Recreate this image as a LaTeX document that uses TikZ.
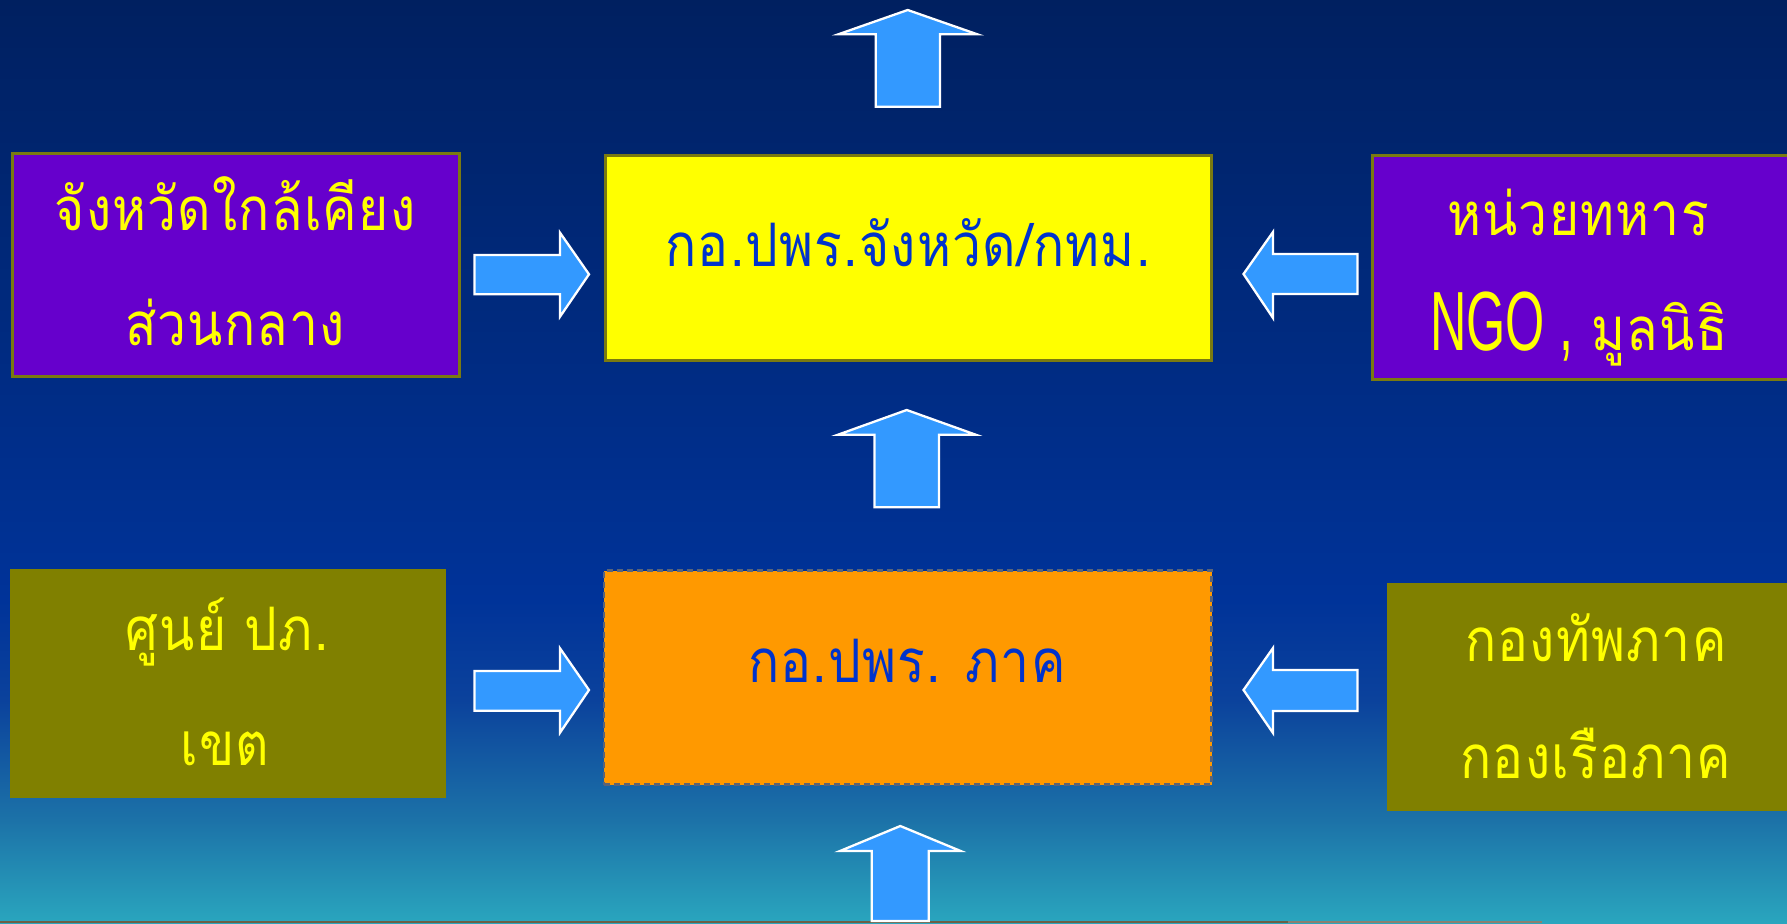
\documentclass[tikz,border=0pt]{standalone}
\usepackage{fontspec}
\newfontfamily\thaifont[Script=Thai,FakeStretch=0.86,LetterSpace=2]{Loma}
\newfontfamily\latfont[FakeStretch=0.6]{Liberation Sans}
\definecolor{bgA}{HTML}{002060}
\definecolor{bgB}{HTML}{003399}
\definecolor{bgB1}{HTML}{0B429C}
\definecolor{bgB2}{HTML}{1C72A8}
\definecolor{bgC}{HTML}{2AA6BE}
\definecolor{purp}{HTML}{6600CC}
\definecolor{olv}{HTML}{808000}
\definecolor{olvbd}{HTML}{7A7A10}
\definecolor{yel}{HTML}{FFFF00}
\definecolor{orng}{HTML}{FF9900}
\definecolor{txtblue}{HTML}{0033CC}
\definecolor{arrfill}{HTML}{3399FF}
\definecolor{lineA}{HTML}{6B6045}
\definecolor{lineB}{HTML}{8A8070}
\definecolor{dashgray}{HTML}{5A6478}
\pgfdeclareverticalshading{bgshade}{100bp}{color(0bp)=(bgC); color(25bp)=(bgC); color(30.58bp)=(bgB2); color(37.08bp)=(bgB1); color(42.5bp)=(bgB); color(75bp)=(bgA); color(100bp)=(bgA)}
\tikzset{
  panel/.style={rectangle, inner sep=0pt, outer sep=0pt},
  purplebox/.style={panel, fill=purp, draw=olvbd, line width=3pt},
  yellowbox/.style={panel, fill=yel, draw=olvbd, line width=3pt},
  olivebox/.style={panel, fill=olv},
  orangebox/.style={panel, fill=orng, draw=dashgray, line width=2.2pt, dash pattern=on 6pt off 4pt},
  ylabel/.style={anchor=base, inner sep=0pt, text=yel, font=\thaifont\fontsize{60}{60}\selectfont},
  blabel/.style={anchor=base, inner sep=0pt, text=txtblue, font=\thaifont\fontsize{60}{60}\selectfont},
  blockarrow/.style={fill=arrfill, draw=white, line width=2.3pt, line join=miter}
}
\begin{document}
\begin{tikzpicture}[x=1pt,y=-1pt]
\useasboundingbox (0,0) rectangle (1787,923);
\clip (0,0) rectangle (1787,923);
\shade[shading=bgshade] (0,0) rectangle (1787,923);
% bottom line
\draw[lineA, line width=2.5pt] (0,922) -- (1288,922);
\draw[lineB, line width=2.5pt] (1288,922) -- (1542,922);
% boxes
\node[purplebox, minimum width=446.5, minimum height=223] (lt) at (235.75,265) {};
\node[yellowbox, minimum width=606.5, minimum height=205] (ct) at (908.25,258) {};
\node[purplebox, minimum width=426, minimum height=224] (rt) at (1585.5,267.5) {};
\node[olivebox, minimum width=435.5, minimum height=229] (lb) at (227.75,683.5) {};
\node[orangebox, minimum width=607.5, minimum height=214] (cb) at (907.75,677.5) {};
\node[olivebox, minimum width=413, minimum height=228] (rb) at (1593.5,697) {};
% texts
\node[ylabel] (lt1) at (235,230) {จังหวัดใกล้เคียง};
\node[ylabel] (lt2) at (235,345) {ส่วนกลาง};
\node[blabel] (ct1) at (908,266.7) {กอ.ปพร.จังหวัด/กทม.};
\node[ylabel] (rt1) at (1578,235) {หน่วยทหาร};
\node[ylabel] (rt2) at (1579,350.7) {{\latfont\fontsize{84}{84}\selectfont NGO ,} มูลนิธิ};
\node[ylabel] (lb1) at (227,650) {ศูนย์ ปภ.};
\node[ylabel] (lb2) at (225,765) {เขต};
\node[blabel] (cb1) at (907,682.7) {กอ.ปพร. ภาค};
\node[ylabel] (rb1) at (1596,661.7) {กองทัพภาค};
\node[ylabel] (rb2) at (1596,778.3) {กองเรือภาค};
% block arrows
\draw[blockarrow] (474.5,255) -- (560,255) -- (560,232.7) -- (589,274.3) -- (560,316.7) -- (560,294.3) -- (474.5,294.3) -- cycle;
\draw[blockarrow] (474.5,671) -- (560,671) -- (560,648.3) -- (589,690) -- (560,732.7) -- (560,710.7) -- (474.5,710.7) -- cycle;
\draw[blockarrow] (1357.4,254) -- (1273,254) -- (1273,232) -- (1243.5,274) -- (1273,318) -- (1273,294) -- (1357.4,294) -- cycle;
\draw[blockarrow] (1357.4,670) -- (1273,670) -- (1273,648) -- (1243.5,690) -- (1273,733) -- (1273,711) -- (1357.4,711) -- cycle;
\draw[blockarrow] (875.7,106.7) -- (875.7,34.3) -- (838.3,34.3) -- (907.7,10) -- (977.3,34.3) -- (940,34.3) -- (940,106.7) -- cycle;
\draw[blockarrow] (874.5,507.3) -- (874.5,434.7) -- (838,434.7) -- (906.7,410) -- (975.7,434.7) -- (939,434.7) -- (939,507.3) -- cycle;
\draw[blockarrow] (871.8,921) -- (871.8,851) -- (840,851) -- (900.3,826) -- (960.7,851) -- (928.8,851) -- (928.8,921) -- cycle;
\end{tikzpicture}
\end{document}
